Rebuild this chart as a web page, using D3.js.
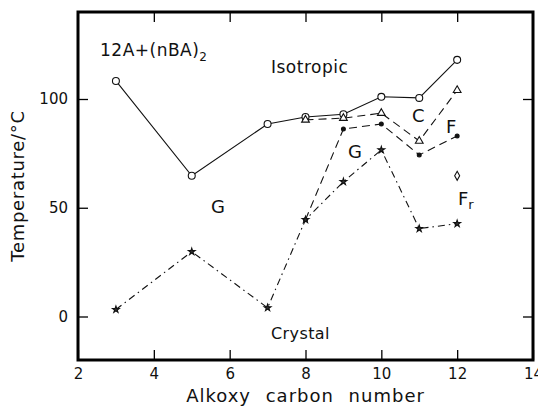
<!DOCTYPE html>
<html>
<head>
<meta charset="utf-8">
<script src="https://cdn.jsdelivr.net/npm/d3@7/dist/d3.min.js"></script>
<style>
  body { margin: 0; background: #fff; }
  text { font-family: "DejaVu Sans", sans-serif; fill: #111; }
</style>
</head>
<body>
<div id="chart"></div>
<script>
// carbon numbers and transition temperatures
var isoX = [3, 5, 7, 8, 9, 10, 11, 12];
var isoY = [108.3, 64.7, 88.5, 91.7, 93, 101, 100.5, 118];

var triX = [8, 9, 10, 11, 12];
var triY = [90.4, 91.2, 93.5, 80.7, 104];

var dotX = [8, 9, 10, 11, 12];
var dotY = [44.5, 86.2, 88.5, 74.3, 83];

var starX = [3, 5, 7, 8, 9, 10, 11, 12];
var starY = [3.2, 29.8, 4, 44.5, 62, 76.6, 40.4, 42.7];

var diaX = [12];
var diaY = [64.7];

var xTicks = [2, 4, 6, 8, 10, 12, 14];
var yTicks = [0, 50, 100];

function zip(xs, ys) {
  return xs.map(function(d, i) { return [d, ys[i]]; });
}

var w = 538, h = 408;
var margin = { top: 12, right: 5, bottom: 48, left: 78 };

var svg = d3.select("#chart").append("svg")
  .attr("width", w)
  .attr("height", h);

var x = d3.scaleLinear().domain([2, 14]).range([margin.left, w - margin.right]);
var y = d3.scaleLinear().domain([-20, 140]).range([h - margin.bottom, margin.top]);

// axes, ticks pointing inward
var tickLen = 10;
svg.append("g")
  .attr("transform", "translate(0," + y(-20) + ")")
  .call(d3.axisBottom(x).tickValues(xTicks).tickSizeInner(-tickLen).tickSizeOuter(0).tickPadding(8))
  .call(function(g) { g.selectAll("text").style("font-size", "15px").attr("fill", "#111"); });

svg.append("g")
  .attr("transform", "translate(0," + y(140) + ")")
  .call(d3.axisTop(x).tickValues(xTicks.slice(1, -1)).tickSizeInner(-tickLen).tickSizeOuter(0).tickFormat(""));

svg.append("g")
  .attr("transform", "translate(" + x(2) + ",0)")
  .call(d3.axisLeft(y).tickValues(yTicks).tickSizeInner(-tickLen).tickSizeOuter(0).tickPadding(10))
  .call(function(g) { g.selectAll("text").style("font-size", "15px").attr("fill", "#111"); });

svg.append("g")
  .attr("transform", "translate(" + x(14) + ",0)")
  .call(d3.axisRight(y).tickValues(yTicks).tickSizeInner(-tickLen).tickSizeOuter(0).tickFormat(""));

svg.selectAll(".domain").remove();
svg.selectAll(".tick line").attr("stroke", "#000").attr("stroke-width", 1.3);

// frame
svg.append("rect")
  .attr("x", x(2)).attr("y", y(140))
  .attr("width", x(14) - x(2)).attr("height", y(-20) - y(140))
  .attr("fill", "none").attr("stroke", "#000").attr("stroke-width", 3);

var line = d3.line()
  .x(function(d) { return x(d[0]); })
  .y(function(d) { return y(d[1]); });

function drawLine(data, dash) {
  svg.append("path")
    .datum(data)
    .attr("fill", "none")
    .attr("stroke", "#111")
    .attr("stroke-width", 1.1)
    .attr("stroke-dasharray", dash)
    .attr("d", line);
}

drawLine(zip(isoX, isoY), null);
drawLine(zip(triX, triY), "8,5");
drawLine(zip(dotX, dotY), "8,5");
drawLine(zip(starX, starY), "7,4,1.5,4");

function drawMarkers(data, type, size, fill) {
  svg.selectAll(null)
    .data(data)
    .enter().append("path")
    .attr("transform", function(d) { return "translate(" + x(d[0]) + "," + y(d[1]) + ")"; })
    .attr("d", d3.symbol().type(type).size(size))
    .attr("fill", fill)
    .attr("stroke", "#111")
    .attr("stroke-width", 1.1);
}

drawMarkers(zip(isoX, isoY), d3.symbolCircle, 38, "#fff");
drawMarkers(zip(triX, triY), d3.symbolTriangle, 26, "#fff");
drawMarkers(zip(dotX, dotY), d3.symbolCircle, 12, "#111");
drawMarkers(zip(starX, starY), d3.symbolStar, 14, "#333");

// open diamond
svg.selectAll(null)
  .data(zip(diaX, diaY))
  .enter().append("path")
  .attr("transform", function(d) { return "translate(" + x(d[0]) + "," + y(d[1]) + ")"; })
  .attr("d", "M0,-4.5L2.5,0L0,4.5L-2.5,0Z")
  .attr("fill", "#fff")
  .attr("stroke", "#111")
  .attr("stroke-width", 1.1);

// labels inside plot
function label(tx, ty, str, size) {
  return svg.append("text")
    .attr("x", tx).attr("y", ty)
    .style("font-size", size + "px")
    .text(str);
}

var t = label(100, 56, "12A+(nBA)", 17).style("letter-spacing", "0.5px");
t.append("tspan").attr("dy", 5).style("font-size", "12px").text("2");

label(271, 73, "Isotropic", 17).style("letter-spacing", "0.5px");
label(412, 122, "C", 18);
label(446, 133, "F", 18);
label(348, 158, "G", 18);
label(211, 213, "G", 18);
var fr = label(458, 205, "F", 18);
fr.append("tspan").attr("dy", 4).style("font-size", "13px").text("r");
label(271, 339, "Crystal", 16).style("letter-spacing", "0.4px");

// axis titles
svg.append("text")
  .attr("x", x(8)).attr("y", 402)
  .attr("text-anchor", "middle")
  .style("font-size", "18px")
  .style("letter-spacing", "1px")
  .style("word-spacing", "8px")
  .text("Alkoxy carbon number");

svg.append("text")
  .attr("transform", "translate(24," + 186 + ") rotate(-90)")
  .attr("text-anchor", "middle")
  .style("font-size", "18px")
  .style("letter-spacing", "0.7px")
  .text("Temperature/\u00B0C");
</script>
</body>
</html>
